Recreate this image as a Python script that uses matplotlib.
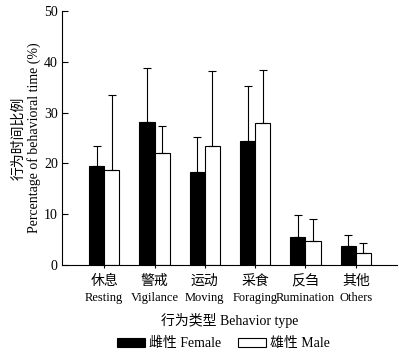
import matplotlib.pyplot as plt
import matplotlib.transforms as mtransforms
import numpy as np

# behaviour categories (Chinese / English)
cats_cn = ['休息', '警戒', '运动', '采食', '反刍', '其他']
cats_en = ['Resting', 'Vigilance', 'Moving', 'Foraging', 'Rumination', 'Others']

# mean percentage of time and upper error (SD)
female = [19.5, 28.1, 18.3, 24.4, 5.5, 3.7]
female_err = [4.0, 10.6, 6.9, 10.8, 4.3, 2.3]
male = [18.7, 22.1, 23.5, 28.0, 4.7, 2.4]
male_err = [14.8, 5.3, 14.6, 10.4, 4.3, 2.0]

fonts = ['Liberation Serif', 'Noto Sans CJK SC']
plt.rcParams['font.family'] = fonts
plt.rcParams['font.size'] = 10

fig = plt.figure(figsize=(3.99, 3.54), dpi=100)
ax = fig.add_axes([0.1554, 0.2514, 0.8396, 0.7175])

x = np.arange(len(cats_en))
w = 0.3
ax.bar(x - w / 2, female, w, color='black', edgecolor='black', linewidth=0.8,
       label='雌性 Female')
ax.bar(x + w / 2, male, w, color='white', edgecolor='black', linewidth=0.8,
       label='雄性 Male')
ax.errorbar(x - w / 2, female, yerr=[np.zeros(len(x)), female_err], fmt='none',
            ecolor='black', elinewidth=0.8, capsize=3, capthick=0.8)
ax.errorbar(x + w / 2, male, yerr=[np.zeros(len(x)), male_err], fmt='none',
            ecolor='black', elinewidth=0.8, capsize=3, capthick=0.8)

ax.set_xlim(-0.84, 5.82)
ax.set_ylim(0, 50)
ax.set_yticks(np.arange(0, 51, 10))
ax.set_xticks(x)
ax.set_xticklabels(cats_cn, fontsize=10)
ax.tick_params(axis='y', direction='in', length=4, width=0.8, pad=3)
ax.tick_params(axis='x', direction='out', length=2, width=0.8, pad=5)

# English names as a second line under the Chinese tick labels
trans = mtransforms.blended_transform_factory(ax.transData, ax.transAxes)
for xi, name in zip(x, cats_en):
    ax.annotate(name, xy=(xi, 0), xycoords=trans, xytext=(0, -23.5),
                textcoords='offset points', ha='center', va='center',
                fontsize=9)

for s in ['top', 'right']:
    ax.spines[s].set_visible(False)
for s in ['left', 'bottom']:
    ax.spines[s].set_linewidth(0.8)

ax.set_ylabel('行为时间比例\nPercentage of behavioral time (%)', linespacing=1.2,
              labelpad=2)
ax.set_xlabel('行为类型 Behavior type', labelpad=18)

fig.legend(loc='lower center', bbox_to_anchor=(0.56, -0.025), ncol=2,
           frameon=False, handlelength=2.0, handleheight=0.7,
           columnspacing=1.2, handletextpad=0.3)

plt.savefig('out.png', dpi=100)
